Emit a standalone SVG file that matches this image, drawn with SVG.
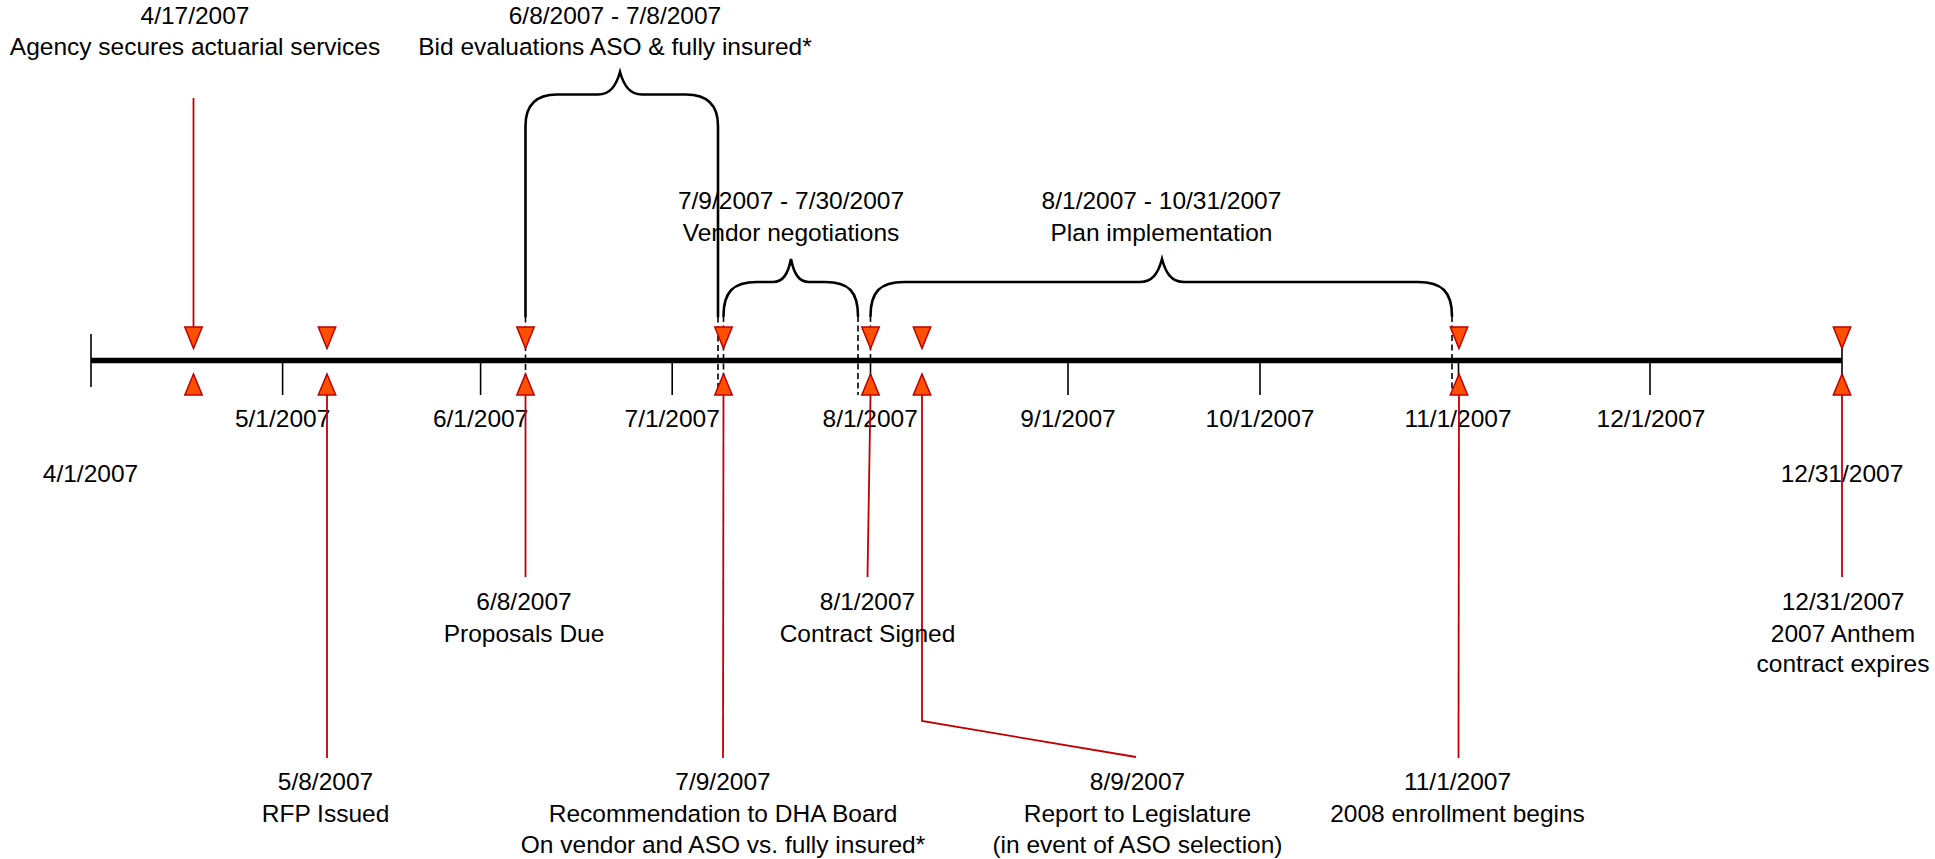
<svg xmlns="http://www.w3.org/2000/svg" width="1935" height="859" viewBox="0 0 1935 859">
<defs>
<style>
text{font-family:"Liberation Sans",Arial,sans-serif;font-size:24.5px;fill:#000;text-anchor:middle}
.axis{stroke:#000;stroke-width:5.5;fill:none}
.tick{stroke:#000;stroke-width:1.6;fill:none}
.brace{stroke:#000;stroke-width:2.6;fill:none;stroke-linecap:round}
.dash{stroke:#000;stroke-width:1.6;stroke-dasharray:6,3.5;fill:none}
.lead{stroke:#C00000;stroke-width:1.8;fill:none}
.tri{fill:#FF4F00;stroke:#C00000;stroke-width:1.5;stroke-linejoin:miter}
</style>
<path id="dn" d="M-8.7,327 L8.7,327 L0,348.5 Z"/>
<path id="up" d="M-8.7,395 L8.7,395 L0,374 Z"/>
</defs>
<rect width="1935" height="859" fill="#fff"/>

<g id="axis">
<line class="axis" x1="91" y1="360.5" x2="1842" y2="360.5"/>
<line class="tick" x1="91" y1="334" x2="91" y2="387"/>
<line class="tick" x1="1842" y1="334" x2="1842" y2="387"/>
<line class="tick" x1="282.6" y1="360" x2="282.6" y2="395"/>
<line class="tick" x1="480.6" y1="360" x2="480.6" y2="395"/>
<line class="tick" x1="672.2" y1="360" x2="672.2" y2="395"/>
<line class="tick" x1="870.5" y1="360" x2="870.5" y2="395"/>
<line class="tick" x1="1068" y1="360" x2="1068" y2="395"/>
<line class="tick" x1="1260" y1="360" x2="1260" y2="395"/>
<line class="tick" x1="1458.5" y1="360" x2="1458.5" y2="395"/>
<line class="tick" x1="1650" y1="360" x2="1650" y2="395"/>
<text x="90.5" y="481.5">4/1/2007</text>
<text x="282.6" y="427">5/1/2007</text>
<text x="480.6" y="427">6/1/2007</text>
<text x="672.2" y="427">7/1/2007</text>
<text x="870.2" y="427">8/1/2007</text>
<text x="1068" y="427">9/1/2007</text>
<text x="1260" y="427">10/1/2007</text>
<text x="1458" y="427">11/1/2007</text>
<text x="1651" y="427">12/1/2007</text>
<text x="1842" y="481.5">12/31/2007</text>
</g>

<g id="connectors">
<path class="brace" d="M525.5,316.5 L525.5,126 Q525.5,94.5 557,94.5 L598,94.5 C610,94.5 616,86 620,72 C624,86 630,94.5 642,94.5 L686,94.5 Q718,94.5 718,126 L718,316.5"/>
<path class="brace" d="M723.5,316 C723.5,292 733,282 757,282 L773,282 C783,282 788,274 791,259 C794,274 799,282 809,282 L825,282 C849,282 858,292 858,316"/>
<path class="brace" d="M870.5,316 C870.5,292 880,282 904,282 L1140,282 C1152,282 1158,274 1162,259 C1166,274 1172,282 1184,282 L1418,282 C1442,282 1452,292 1452,316"/>
<line class="dash" x1="525.5" y1="316.5" x2="525.5" y2="395"/>
<line class="dash" x1="718" y1="316.5" x2="718" y2="395"/>
<line class="dash" x1="723.5" y1="316" x2="723.5" y2="395"/>
<line class="dash" x1="858" y1="316" x2="858" y2="395"/>
<line class="dash" x1="870.5" y1="316" x2="870.5" y2="360"/>
<line class="dash" x1="1452" y1="316" x2="1452" y2="395"/>
<line class="lead" x1="193.5" y1="98" x2="193.5" y2="327"/>
<line class="lead" x1="327" y1="395" x2="327" y2="758"/>
<line class="lead" x1="525.5" y1="395" x2="525.5" y2="577"/>
<line class="lead" x1="723.5" y1="395" x2="723" y2="758"/>
<line class="lead" x1="870.5" y1="395" x2="867.5" y2="577"/>
<polyline class="lead" points="922,395 922,721 1136,757"/>
<line class="lead" x1="1459" y1="395" x2="1458.5" y2="758"/>
<line class="lead" x1="1842" y1="395" x2="1842" y2="577"/>
</g>

<g id="ev-0417">
<use href="#dn" class="tri" x="193.5"/><use href="#up" class="tri" x="193.5"/>
<text x="195" y="24">4/17/2007</text>
<text x="195" y="55">Agency secures actuarial services</text>
</g>
<g id="ev-0508">
<use href="#dn" class="tri" x="327"/><use href="#up" class="tri" x="327"/>
<text x="325.5" y="790">5/8/2007</text>
<text x="325.5" y="821.5">RFP Issued</text>
</g>
<g id="ev-0608">
<use href="#dn" class="tri" x="525.5"/><use href="#up" class="tri" x="525.5"/>
<text x="524" y="610">6/8/2007</text>
<text x="524" y="641.5">Proposals Due</text>
</g>
<g id="span-bid">
<text x="615" y="23.5">6/8/2007 - 7/8/2007</text>
<text x="615" y="55">Bid evaluations ASO &amp; fully insured*</text>
</g>
<g id="ev-0709">
<use href="#dn" class="tri" x="723.5"/><use href="#up" class="tri" x="723.5"/>
<text x="723" y="790">7/9/2007</text>
<text x="723" y="821.5">Recommendation to DHA Board</text>
<text x="723" y="853">On vendor and ASO vs. fully insured*</text>
</g>
<g id="span-vendor">
<text x="791" y="209">7/9/2007 - 7/30/2007</text>
<text x="791" y="240.5">Vendor negotiations</text>
</g>
<g id="ev-0801">
<use href="#dn" class="tri" x="870.5"/><use href="#up" class="tri" x="870.5"/>
<text x="867.5" y="610">8/1/2007</text>
<text x="867.5" y="641.5">Contract Signed</text>
</g>
<g id="span-plan">
<text x="1161.5" y="209">8/1/2007 - 10/31/2007</text>
<text x="1161.5" y="240.5">Plan implementation</text>
</g>
<g id="ev-0809">
<use href="#dn" class="tri" x="922"/><use href="#up" class="tri" x="922"/>
<text x="1137.5" y="790">8/9/2007</text>
<text x="1137.5" y="821.5">Report to Legislature</text>
<text x="1137.5" y="853">(in event of ASO selection)</text>
</g>
<g id="ev-1101">
<use href="#dn" class="tri" x="1459"/><use href="#up" class="tri" x="1459"/>
<text x="1457.5" y="790">11/1/2007</text>
<text x="1457.5" y="821.5">2008 enrollment begins</text>
</g>
<g id="ev-1231">
<use href="#dn" class="tri" x="1842"/><use href="#up" class="tri" x="1842"/>
<text x="1843" y="610">12/31/2007</text>
<text x="1843" y="641.5">2007 Anthem</text>
<text x="1843" y="672">contract expires</text>
</g>
</svg>
